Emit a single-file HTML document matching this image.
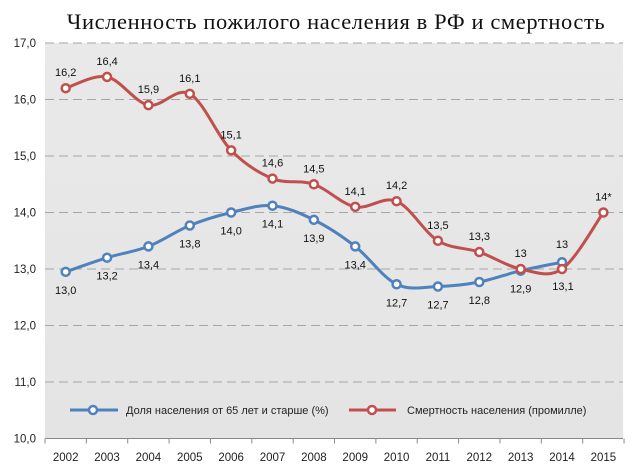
<!DOCTYPE html>
<html><head><meta charset="utf-8"><style>
body{margin:0;background:#fff;}
svg{display:block;font-family:"Liberation Sans","DejaVu Sans",sans-serif;}
</style></head><body>
<svg id="s" width="640" height="472" viewBox="0 0 640 472">
<defs><linearGradient id="g" x1="0" y1="0" x2="0" y2="1"><stop offset="0" stop-color="#e9e9e9"/><stop offset="1" stop-color="#e4e4e4"/></linearGradient></defs>
<rect x="0" y="0" width="640" height="472" fill="#fff"/>
<text x="336" y="29" text-anchor="middle" font-family="Liberation Serif,serif" font-size="22.5" fill="#111" letter-spacing="0.6">Численность пожилого населения в РФ и смертность</text>
<rect x="45" y="43" width="578" height="396" fill="url(#g)"/>
<g id="grid"></g>
<g id="series"></g>
<g font-size="11" fill="#222">
<line x1="70" y1="410" x2="118" y2="410" stroke="#4f81bd" stroke-width="3"/>
<circle cx="93" cy="410" r="4" fill="#fff" stroke="#4f81bd" stroke-width="2.5"/>
<text x="126" y="414">Доля населения от 65 лет и старше (%)</text>
<line x1="349" y1="410" x2="396" y2="410" stroke="#c0504d" stroke-width="3"/>
<circle cx="372" cy="410" r="4" fill="#fff" stroke="#c0504d" stroke-width="2.5"/>
<text x="407" y="414">Смертность населения (промилле)</text>
</g>
</svg>
<script>
const NS="http://www.w3.org/2000/svg";
const s=document.getElementById('s'),grid=document.getElementById('grid'),ser=document.getElementById('series');
function el(t,a,p,txt){const e=document.createElementNS(NS,t);for(const k in a)e.setAttribute(k,a[k]);if(txt!==undefined)e.textContent=txt;p.appendChild(e);return e;}
const X=i=>65.7+i*41.36, Y=v=>43+(17-v)*56.5;
for(let v=11;v<=17;v++){el('line',{x1:45,x2:623,y1:Y(v),y2:Y(v),stroke:'#a6a6a6','stroke-dasharray':'9,5'},grid);}
for(let v=10;v<=17;v++){el('text',{x:36,y:Y(v)+4,'text-anchor':'end','font-size':11.5,fill:'#222'},grid,v+',0');}
el('line',{x1:45,x2:623,y1:Y(10),y2:Y(10),stroke:'#888'},grid);
for(let i=0;i<=14;i++){el('line',{x1:45+i*41.36,x2:45+i*41.36,y1:Y(10),y2:Y(10)+5,stroke:'#888'},grid);}
for(let i=0;i<14;i++){el('text',{x:X(i),y:461,'text-anchor':'middle','font-size':11.5,fill:'#222'},grid,2002+i);}
function path(pts){let d='M'+pts[0].join(',');for(let i=0;i<pts.length-1;i++){const p0=pts[i-1]||pts[i],p1=pts[i],p2=pts[i+1],p3=pts[i+2]||p2;const t=1/6;d+=' C'+(p1[0]+(p2[0]-p0[0])*t)+','+(p1[1]+(p2[1]-p0[1])*t)+' '+(p2[0]-(p3[0]-p1[0])*t)+','+(p2[1]-(p3[1]-p1[1])*t)+' '+p2[0]+','+p2[1];}return d;}
const blue=[12.95,13.2,13.4,13.77,14.0,14.12,13.87,13.4,12.73,12.69,12.77,12.97,13.12];
const bl=['13,0','13,2','13,4','13,8','14,0','14,1','13,9','13,4','12,7','12,7','12,8','12,9','13'];
const red=[16.2,16.4,15.9,16.1,15.1,14.6,14.5,14.1,14.2,13.5,13.3,13.0,13.0,14.0];
const rl=['16,2','16,4','15,9','16,1','15,1','14,6','14,5','14,1','14,2','13,5','13,3','13','13,1','14*'];
function draw(vals,col){const pts=vals.map((v,i)=>[X(i),Y(v)]);
el('path',{d:path(pts),fill:'none',stroke:col,'stroke-width':3},ser);
pts.forEach((p,i)=>{el('circle',{cx:p[0],cy:p[1],r:4,fill:'#fff',stroke:col,'stroke-width':2.5},ser);});
return pts;}
const bp=draw(blue,'#4f81bd'),rp=draw(red,'#c0504d');
bp.forEach((p,i)=>{let y=p[1]+22,x=p[0];if(i==12){y=p[1]-14;}el('text',{x:x,y:y,'text-anchor':'middle','font-size':11,fill:'#111'},ser,bl[i]);});
rp.forEach((p,i)=>{let y=p[1]-12,x=p[0];if(i==12){y=p[1]+21;x=p[0]+1;}el('text',{x:x,y:y,'text-anchor':'middle','font-size':11,fill:'#111'},ser,rl[i]);});
</script>
</body></html>
